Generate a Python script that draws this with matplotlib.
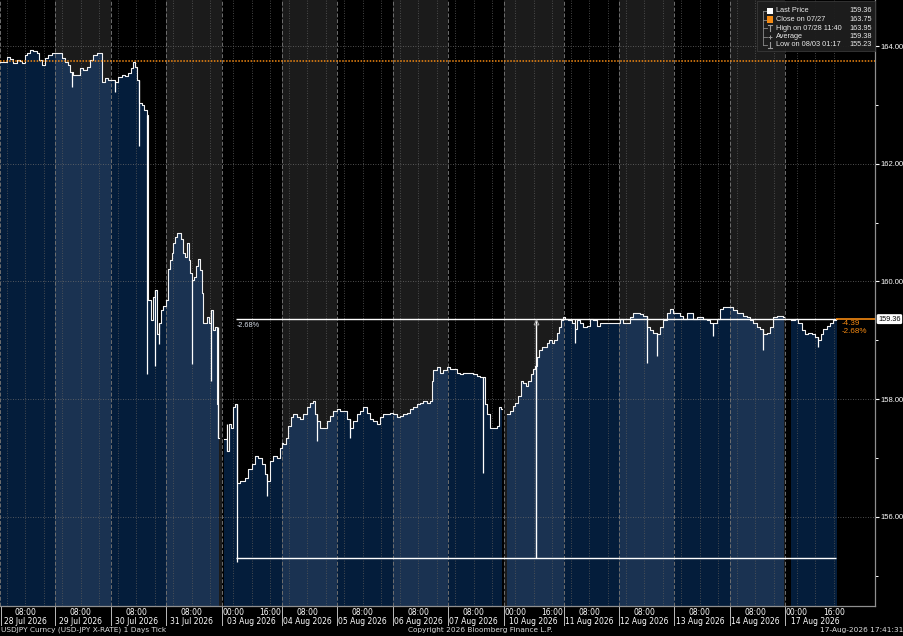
import matplotlib
matplotlib.use("Agg")
import matplotlib.pyplot as plt
import matplotlib.transforms as mtransforms
from matplotlib.patches import Rectangle
from matplotlib.lines import Line2D
import numpy as np

plt.rcParams['font.family'] = ['DejaVu Sans']

# ---------------- data ----------------
# trading sessions (hours since 27 Jul 21:00 UTC, weekends removed)
day_labels = ["28 Jul 2026", "29 Jul 2026", "30 Jul 2026", "31 Jul 2026", "03 Aug 2026",
              "04 Aug 2026", "05 Aug 2026", "06 Aug 2026", "07 Aug 2026", "10 Aug 2026",
              "11 Aug 2026", "12 Aug 2026", "13 Aug 2026", "14 Aug 2026", "17 Aug 2026"]
day_start = [0, 24, 48, 72, 96, 122, 146, 170, 194, 218, 244, 268, 292, 316, 340]
day_end = [24, 48, 72, 96, 122, 146, 170, 194, 218, 244, 268, 292, 316, 340, 379]
is_monday = [False, False, False, False, True, False, False, False, False, True,
             False, False, False, False, True]

hours = [
    0, 2.9, 4.3, 5.8, 7.2, 8.7, 9.4, 10.8, 11.6, 13.0, 14.4, 15.9, 17.0, 18.1, 19.5, 20.9, 22.4, 23.8,
    25.2, 26.7, 28.1, 29.6, 30.3, 31.7, 33.2, 34.6, 36.1, 37.5, 39.0, 40.4, 41.9, 43.3, 44.0, 45.5, 46.9,
    48.4, 49.8, 51.2, 52.7, 54.1, 55.5, 56.6, 57.7, 58.4, 59.4, 60.3, 61.3, 62.3, 63.5, 64.2, 65.2, 66.4,
    67.1, 68.1, 69.0, 69.8, 70.7, 71.7,
    72.9, 73.6, 74.3, 75.0, 75.9, 76.8, 77.6, 78.5, 79.4, 80.1, 80.8, 81.7, 82.4, 83.1, 84.0, 84.8, 85.7,
    86.6, 87.3, 88.0, 88.9, 89.7, 90.6, 91.2, 92.3, 93.2, 93.8, 94.5,
    97.0, 98.1, 99.0, 99.9, 100.7, 101.7, 102.5, 103.9, 106.1, 107.5, 109.0, 110.4, 111.8, 113.3, 114.7,
    115.5, 116.9, 118.3, 119.8, 121.2, 121.9,
    122.6, 123.8, 124.8, 125.8, 127.0, 128.4, 129.9, 131.3, 132.8, 134.2, 135.4, 136.4, 137.4, 138.5,
    140.0, 141.4, 142.9, 144.3, 145.8,
    147.2, 148.6, 150.1, 151.5, 152.9, 154.4, 155.8, 157.3, 158.7, 160.2, 161.6, 163.1, 164.5, 165.9,
    167.4, 168.8,
    170.3, 171.7, 173.2, 174.6, 176.1, 177.5, 178.9, 180.4, 181.8, 183.3, 184.7, 186.1, 186.9, 187.6,
    189.0, 190.5, 191.9, 193.4,
    194.8, 196.2, 197.7, 199.1, 200.6, 202.0, 203.5, 204.9, 206.4, 207.8, 209.0, 210.0, 210.7, 212.1,
    213.6, 215.0, 216.2, 216.9,
    219.6, 220.8, 221.9, 222.9, 224.4, 225.4, 226.6, 227.7, 228.7, 229.7, 230.6, 231.6, 232.6, 233.5,
    234.5, 235.5, 236.7, 237.8, 238.8, 239.8, 241.0, 242.0, 242.7, 243.6,
    244.6, 246.0, 247.5, 248.9, 249.9, 251.1, 252.5, 254.0, 255.4, 256.8, 258.3, 259.7, 262.6, 265.5,
    268.4, 269.8, 271.3, 272.7, 274.2, 275.6, 277.1, 278.5, 280.0, 281.4, 282.8, 284.3, 285.7, 287.2,
    288.6, 290.0, 291.5,
    292.9, 294.4, 295.8, 297.3, 298.7, 300.1, 301.6, 303.0, 304.5, 305.9, 307.4, 308.8, 310.3, 311.7,
    313.1, 314.6,
    316.0, 317.5, 318.9, 320.3, 321.8, 323.2, 324.7, 326.1, 327.6, 329.0, 330.4, 331.9, 333.3, 334.8,
    336.2, 337.7, 339.1,
    342.3, 344.2, 345.6, 347.0, 348.5, 349.9, 351.4, 352.8, 354.2, 355.3, 356.4, 357.9, 359.3, 360.8, 361.9,
]
close = [
    163.73, 163.81, 163.78, 163.71, 163.76, 163.74, 163.71, 163.85, 163.88, 163.93, 163.91, 163.88, 163.76,
    163.68, 163.80, 163.85, 163.88, 163.88,
    163.88, 163.80, 163.73, 163.68, 163.56, 163.51, 163.51, 163.63, 163.59, 163.64, 163.76, 163.85, 163.88,
    163.88, 163.39, 163.46, 163.42,
    163.42, 163.39, 163.47, 163.51, 163.49, 163.54, 163.63, 163.73, 163.64, 163.42, 163.03, 163.00, 162.91,
    162.83, 159.68, 159.34, 159.73, 159.85, 159.11, 159.29, 159.51, 159.59, 159.68,
    160.22, 160.36, 160.48, 160.66, 160.75, 160.83, 160.82, 160.73, 160.49, 160.41, 160.65, 160.36, 160.15,
    160.02, 160.07, 160.27, 160.39, 160.19, 159.80, 159.29, 159.29, 159.39, 159.29, 159.51, 159.17, 159.22,
    157.92, 157.34,
    157.33, 157.12, 157.58, 157.51, 157.86, 157.92, 156.58, 156.61, 156.66, 156.82, 156.90, 157.04, 157.00,
    156.90, 156.73, 156.61, 156.95, 157.04, 157.00, 157.17, 157.26,
    157.24, 157.34, 157.55, 157.69, 157.75, 157.69, 157.67, 157.75, 157.86, 157.94, 157.97, 157.75, 157.63,
    157.51, 157.51, 157.63, 157.72, 157.80, 157.84,
    157.80, 157.80, 157.67, 157.51, 157.63, 157.75, 157.80, 157.86, 157.77, 157.67, 157.63, 157.58, 157.69,
    157.75, 157.75, 157.77,
    157.75, 157.69, 157.72, 157.75, 157.77, 157.84, 157.86, 157.92, 157.94, 157.97, 157.94, 157.97, 158.31,
    158.49, 158.54, 158.45, 158.49, 158.54,
    158.52, 158.52, 158.45, 158.43, 158.45, 158.45, 158.45, 158.43, 158.40, 158.37, 158.37, 157.92, 157.75,
    157.51, 157.51, 157.55, 157.86, 157.84,
    157.75, 157.80, 157.89, 157.94, 158.06, 158.31, 158.28, 158.23, 158.31, 158.43, 158.52, 158.57, 158.71,
    158.83, 158.88, 158.88, 158.96, 159.00, 158.96, 159.00, 159.13, 159.22, 159.34, 159.39,
    159.37, 159.34, 159.30, 159.20, 159.34, 159.29, 159.22, 159.25, 159.37, 159.34, 159.25, 159.30, 159.30,
    159.30,
    159.37, 159.30, 159.30, 159.39, 159.46, 159.46, 159.44, 159.42, 159.22, 159.17, 159.13, 159.11, 159.22,
    159.34, 159.47, 159.54, 159.47,
    159.46, 159.42, 159.37, 159.46, 159.47, 159.37, 159.39, 159.39, 159.37, 159.34, 159.30, 159.29, 159.37,
    159.54, 159.56, 159.57,
    159.56, 159.51, 159.47, 159.46, 159.42, 159.39, 159.34, 159.29, 159.22, 159.20, 159.11, 159.13, 159.22,
    159.39, 159.42, 159.42, 159.39,
    159.34, 159.37, 159.29, 159.17, 159.11, 159.13, 159.11, 159.05, 159.00, 159.11, 159.20, 159.25, 159.30,
    159.34, 159.36,
]

# notable tick bars (high / low spikes)
bar_t = [31.0, 49.8, 60.0, 63.7, 67.1, 69.0, 83.1, 91.2, 94.2, 98.3, 102.5, 115.6, 137.4, 151.5,
         209.3, 248.9, 280.0, 284.3, 308.8, 330.4, 354.2]
bar_hi = [163.56, 163.40, 163.42, 162.83, 159.85, 159.29, 160.02, 159.51, 159.22, 157.58, 157.92,
          156.73, 157.75, 157.67, 158.37, 159.37, 159.42, 159.13, 159.30, 159.20, 159.05]
bar_lo = [163.30, 163.22, 162.31, 158.43, 158.57, 158.94, 158.60, 158.31, 157.34, 157.12, 155.23,
          156.36, 157.29, 157.34, 156.75, 158.96, 158.62, 158.74, 159.08, 158.83, 158.88]

last_price = 159.36
prev_close = 163.75
range_low = 155.30
range_start_t = 102.2
range_mark_t = 232.0
chg_abs = "-4.39"
chg_pct = "-2.68%"
y_major = [156, 158, 160, 162, 164]
y_minor = [155, 157, 159, 161, 163]

legend_rows = [("Last Price", "159.36"), ("Close on 07/27", "163.75"),
               ("High on 07/28 11:40", "163.95"), ("Average", "159.38"),
               ("Low on 08/03 01:17", "155.23")]

# ---------------- figure ----------------
W, H = 904, 636
fig = plt.figure(figsize=(W / 100, H / 100), dpi=100, facecolor='black')
ax = fig.add_axes([0, 30 / H, 875 / W, 606 / H])
ax.set_facecolor('black')
X_MAX = 378.8
Y_MIN, Y_MAX = 154.485, 164.783
ax.set_xlim(0, X_MAX)
ax.set_ylim(Y_MIN, Y_MAX)

GRAY_BG = '#1b1b1b'
FILL_DARK = '#041d3b'
FILL_LIGHT = '#1a3251'
ORANGE = '#f58a12'
NARROW = ['Liberation Sans', 'DejaVu Sans']

for i, (s, e) in enumerate(zip(day_start, day_end)):
    if i % 2 == 1:
        ax.axvspan(s, e, color=GRAY_BG, zorder=0, lw=0)

t = np.array(hours)
p = np.array(close)

# area + line per session
for i, (s, e) in enumerate(zip(day_start, day_end)):
    m = (t >= s) & (t < e)
    ts, ps = t[m], p[m]
    if len(ts) == 0:
        continue
    if not is_monday[i] and i > 0:
        prev = p[t < s][-1]
        ts = np.r_[s, ts]
        ps = np.r_[prev, ps]
    last_day = i == len(day_start) - 1
    before_weekend = (not last_day) and is_monday[i + 1]
    end = ts[-1] + 0.4 if (before_weekend or last_day) else e
    ts = np.r_[ts, end]
    ps = np.r_[ps, ps[-1]]
    col = FILL_LIGHT if i % 2 == 1 else FILL_DARK
    ax.fill_between(ts, Y_MIN, ps, step='post', color=col, lw=0, zorder=1)
    ax.plot(ts, ps, drawstyle='steps-post', color='#f2f2f2', lw=0.8, zorder=4)

# grid lines
for v in y_major:
    ax.axhline(v, color='#6b6b6b', ls=(0, (1, 2)), lw=0.6, zorder=2)
for i, s in enumerate(day_start):
    off = 2 if is_monday[i] else 0
    ax.axvline(s, color='#6e6e6e', ls=(0, (4, 2)), lw=0.7, zorder=2)
    for h in (3, 11, 19):
        x = s + h + off
        if x < day_end[i]:
            ax.axvline(x, color='#5a5a5a', ls=(0, (1, 2)), lw=0.6, zorder=2)

# tick bars
ax.vlines(bar_t, bar_lo, bar_hi, color='white', lw=0.9, zorder=4)

# reference lines
ax.axhline(prev_close, color=ORANGE, ls=(0, (1, 1)), lw=1.1, zorder=5)
ax.hlines(last_price, range_start_t, t[-1], color='white', lw=1.0, zorder=5)
ax.hlines(last_price, t[-1], X_MAX, color=ORANGE, lw=1.2, zorder=5)
ax.hlines(range_low, range_start_t, t[-1], color='white', lw=1.0, zorder=5)
ax.vlines(range_mark_t, range_low, last_price, color='white', lw=1.0, zorder=5)
ax.plot([range_mark_t], [last_price - 0.05], marker='^', ms=3.5, mfc='none', mec='#aaaaaa',
        mew=0.7, zorder=6)
ax.text(range_start_t + 0.3, last_price - 0.05, chg_pct, color='#d8dfea', fontsize=5.2,
        ha='left', va='top', zorder=6, family=NARROW)
ax.annotate(chg_abs, (t[-1], last_price), xytext=(4, -3), textcoords='offset points',
            color=ORANGE, fontsize=5.8, ha='left', va='center', zorder=6, family=NARROW)
ax.annotate(chg_pct, (t[-1], last_price), xytext=(4, -9), textcoords='offset points',
            color=ORANGE, fontsize=5.8, ha='left', va='center', zorder=6, family=NARROW)

# y axis
ax.yaxis.tick_right()
ax.set_yticks(y_major)
ax.set_yticklabels([f"{v:.2f}" for v in y_major], family=NARROW)
ax.set_yticks(y_minor, minor=True)
ax.tick_params(axis='y', which='major', colors='white', labelsize=5.5, length=3, width=0.8,
               pad=0.8, direction='out')
ax.tick_params(axis='y', which='minor', colors='white', length=2, width=0.7, direction='out')
ax.set_xticks([])
for side in ('left', 'top'):
    ax.spines[side].set_visible(False)
for side in ('right', 'bottom'):
    ax.spines[side].set_color('#8f8f8f')
    ax.spines[side].set_linewidth(0.9)

ax.annotate(f"{last_price:.2f}", xy=(1.0, last_price), xycoords=('axes fraction', 'data'),
            xytext=(2.3, 0), textcoords='offset points', ha='left', va='center',
            fontsize=5.3, color='black', zorder=10, annotation_clip=False, family=NARROW,
            bbox=dict(boxstyle='round,pad=0.2', fc='white', ec='none'))

# x labels
trans = mtransforms.blended_transform_factory(ax.transData, ax.transAxes)
lab_kw = dict(xycoords=trans, textcoords='offset points', ha='center', va='center',
              fontsize=5.5, color='white', annotation_clip=False)
for i, s in enumerate(day_start):
    if is_monday[i]:
        ax.annotate("00:00", (s + 5, 0), xytext=(0, -4.5), **lab_kw)
        ax.annotate("16:00", (s + 21, 0), xytext=(0, -4.5), **lab_kw)
        ax.annotate(day_labels[i], (s + 13, 0), xytext=(0, -11), **lab_kw)
    else:
        ax.annotate("08:00", (s + 11, 0), xytext=(0, -4.5), **lab_kw)
        ax.annotate(day_labels[i], (s + 11, 0), xytext=(0, -11), **lab_kw)
    if i > 0:
        ax.add_line(Line2D([s, s], [0, -19 / 606], transform=trans, color='#bbbbbb', lw=0.7,
                           clip_on=False))
ax.add_line(Line2D([0.4, 0.4], [0, -19 / 606], transform=trans, color='#bbbbbb', lw=0.7,
                   clip_on=False))

# footer
fig.text(1 / W, 1 - 630 / H, "USDJPY Curncy (USD-JPY X-RATE) 1 Days Tick", color='#dddddd',
         fontsize=5.3, ha='left', va='center')
fig.text(480 / W, 1 - 630 / H, "Copyright 2026 Bloomberg Finance L.P.", color='#dddddd',
         fontsize=5.3, ha='center', va='center')
fig.text(903 / W, 1 - 630 / H, "17-Aug-2026 17:41:31", color='#dddddd', fontsize=5.3,
         ha='right', va='center')

# legend box
def fx(px):
    return px / W


def fy(py):
    return 1 - py / H


fig.add_artist(Rectangle((fx(757), fy(51)), fx(875) - fx(757), fy(1) - fy(51),
                         transform=fig.transFigure, fc='#1e1e1e', ec='#3a3a3a', lw=0.6,
                         alpha=0.95, zorder=20))
row_y = [11, 19.5, 28, 36.5, 45]
fig.add_artist(Line2D([fx(763), fx(763)], [fy(row_y[0]), fy(row_y[-1])],
                      transform=fig.transFigure, color='#8a8a8a', lw=0.6, zorder=21))
for k, (name, val) in enumerate(legend_rows):
    y = row_y[k]
    fig.add_artist(Line2D([fx(763), fx(767)], [fy(y), fy(y)], transform=fig.transFigure,
                          color='#8a8a8a', lw=0.6, zorder=21))
    if k < 2:
        fig.add_artist(Rectangle((fx(767), fy(y + 3.3)), fx(6.5), 6.5 / H,
                                 transform=fig.transFigure,
                                 fc='white' if k == 0 else ORANGE, ec='none', zorder=22))
    elif k == 2:
        fig.add_artist(Line2D([fx(770), fx(770)], [fy(y - 3), fy(y + 3)],
                              transform=fig.transFigure, color='#9a9a9a', lw=0.8, zorder=22))
        fig.add_artist(Line2D([fx(768), fx(772)], [fy(y - 3), fy(y - 3)],
                              transform=fig.transFigure, color='#9a9a9a', lw=0.8, zorder=22))
    elif k == 3:
        fig.add_artist(Line2D([fx(770)], [fy(y)], transform=fig.transFigure, marker='+',
                              ms=3, color='#9a9a9a', mew=0.7, zorder=22))
    else:
        fig.add_artist(Line2D([fx(770), fx(770)], [fy(y - 3), fy(y + 3)],
                              transform=fig.transFigure, color='#9a9a9a', lw=0.8, zorder=22))
        fig.add_artist(Line2D([fx(768), fx(772)], [fy(y + 3), fy(y + 3)],
                              transform=fig.transFigure, color='#9a9a9a', lw=0.8, zorder=22))
    fig.text(fx(776), fy(y), name, color='#e8e8e8', fontsize=5.3, ha='left', va='center',
             zorder=23, family=NARROW)
    fig.text(fx(872), fy(y), val, color='#e8e8e8', fontsize=5.3, ha='right', va='center',
             zorder=23, family=NARROW)

fig.savefig("out.png", dpi=100, facecolor='black')
